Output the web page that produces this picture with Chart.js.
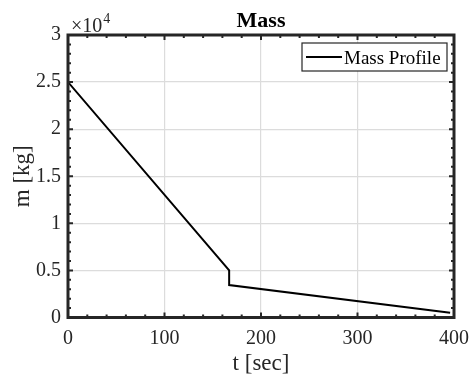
<!DOCTYPE html>
<html>
<head>
<meta charset="utf-8">
<script src="https://cdn.jsdelivr.net/npm/chart.js@4"></script>
<style>
  html, body { margin: 0; padding: 0; background: #fff; }
  #wrap { width: 469px; height: 376px; }
</style>
</head>
<body>
<div id="wrap"><canvas id="massChart" width="469" height="376"></canvas></div>
<script>
// mass profile
const timeSec = [0, 167, 167, 396];
const massKg = [25000, 5000, 3450, 500];
const seriesName = 'Mass Profile';
const xTicks = [0, 100, 200, 300, 400];
const yTicks = [0, 5000, 10000, 15000, 20000, 25000, 30000];

const serif = "'Liberation Serif', 'Times New Roman', serif";
const axisGray = '#262626';

// box, inward ticks, labels and legend in matlab style
const matlabFrame = {
    id: 'matlabFrame',
    afterDraw(chart) {
        const ctx = chart.ctx;
        const a = chart.chartArea;
        const xs = chart.scales.x, ys = chart.scales.y;
        ctx.save();

        // minor + major ticks inside, all four sides
        ctx.strokeStyle = axisGray;
        ctx.lineWidth = 2;
        for (let v = 0; v <= 400; v += 20) {
            const px = xs.getPixelForValue(v);
            const len = v % 100 === 0 ? 5 : 3;
            ctx.beginPath();
            ctx.moveTo(px, a.bottom); ctx.lineTo(px, a.bottom - len);
            ctx.moveTo(px, a.top); ctx.lineTo(px, a.top + len);
            ctx.stroke();
        }
        for (let v = 0; v <= 30000; v += 1000) {
            const py = ys.getPixelForValue(v);
            const len = v % 5000 === 0 ? 5 : 3;
            ctx.beginPath();
            ctx.moveTo(a.left, py); ctx.lineTo(a.left + len, py);
            ctx.moveTo(a.right, py); ctx.lineTo(a.right - len, py);
            ctx.stroke();
        }

        // box
        ctx.lineWidth = 3;
        ctx.strokeRect(a.left, a.top, a.right - a.left, a.bottom - a.top);

        // exponent
        ctx.fillStyle = axisGray;
        ctx.textBaseline = 'alphabetic';
        ctx.textAlign = 'left';
        ctx.font = '20px ' + serif;
        ctx.fillText('\u00d710', a.left + 3, 32);
        const w = ctx.measureText('\u00d710').width;
        ctx.font = '14px ' + serif;
        ctx.fillText('4', a.left + 4 + w, 23);

        // title
        ctx.fillStyle = '#000';
        ctx.textAlign = 'center';
        ctx.font = 'bold 22px ' + serif;
        ctx.fillText('Mass', (a.left + a.right) / 2, 27);

        // axis titles
        ctx.fillStyle = axisGray;
        ctx.font = '23px ' + serif;
        ctx.fillText('t [sec]', (a.left + a.right) / 2, 370);
        ctx.save();
        ctx.translate(29, (a.top + a.bottom) / 2);
        ctx.rotate(-Math.PI / 2);
        ctx.fillText('m [kg]', 0, 0);
        ctx.restore();

        // legend
        const lx = 302, ly = 43, lw = 145, lh = 28;
        ctx.fillStyle = '#fff';
        ctx.fillRect(lx, ly, lw, lh);
        ctx.strokeStyle = '#262626';
        ctx.lineWidth = 1.2;
        ctx.strokeRect(lx, ly, lw, lh);
        ctx.strokeStyle = '#000';
        ctx.lineWidth = 2;
        ctx.beginPath();
        ctx.moveTo(lx + 4, ly + 14); ctx.lineTo(lx + 40, ly + 14);
        ctx.stroke();
        ctx.fillStyle = '#000';
        ctx.textAlign = 'left';
        ctx.font = '19px ' + serif;
        ctx.fillText(seriesName, lx + 42, ly + 21);

        ctx.restore();
    }
};

document.addEventListener('DOMContentLoaded', function () {
    var ctx = document.getElementById('massChart').getContext('2d');
    var points = timeSec.map(function (t, i) { return { x: t, y: massKg[i] }; });

    new Chart(ctx, {
        type: 'line',
        data: {
            datasets: [{
                label: seriesName,
                data: points,
                borderColor: '#000',
                borderWidth: 2,
                pointRadius: 0,
                tension: 0,
                fill: false
            }]
        },
        options: {
            responsive: false,
            animation: false,
            layout: { padding: { top: 35, right: 15, left: 0, bottom: 0 } },
            plugins: {
                legend: { display: false },
                title: { display: false },
                tooltip: { enabled: false }
            },
            scales: {
                x: {
                    type: 'linear',
                    min: 0,
                    max: 400,
                    afterBuildTicks: function (s) { s.ticks = xTicks.map(function (v) { return { value: v }; }); },
                    afterFit: function (s) { s.height = 58.5; s.paddingLeft = 0; s.paddingRight = 0; },
                    grid: { color: '#dcdcdc', lineWidth: 1.2, drawTicks: false },
                    border: { display: false },
                    ticks: {
                        padding: 9,
                        maxRotation: 0,
                        color: axisGray,
                        font: { family: serif, size: 20 }
                    }
                },
                y: {
                    type: 'linear',
                    min: 0,
                    max: 30000,
                    afterBuildTicks: function (s) { s.ticks = yTicks.map(function (v) { return { value: v }; }); },
                    afterFit: function (s) { s.width = 68; s.paddingTop = 0; s.paddingBottom = 0; },
                    grid: { color: '#dcdcdc', lineWidth: 1.2, drawTicks: false },
                    border: { display: false },
                    ticks: {
                        padding: 7,
                        color: axisGray,
                        font: { family: serif, size: 20 },
                        callback: function (v) { return String(v / 10000); }
                    }
                }
            }
        },
        plugins: [matlabFrame]
    });
});
</script>
</body>
</html>
